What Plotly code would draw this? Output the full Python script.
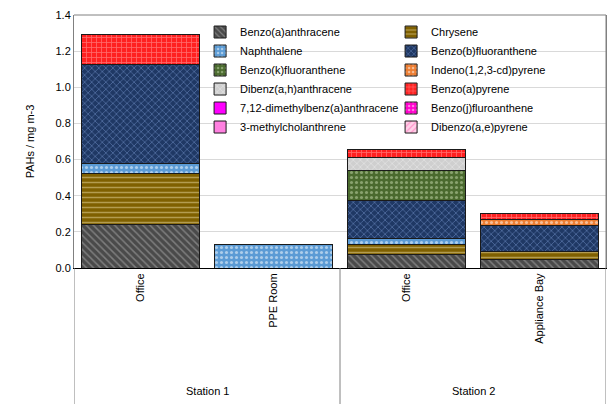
import plotly.graph_objects as go

# Sampling locations, grouped by station
stations = ["Station 1", "Station 1", "Station 2", "Station 2"]
locations = ["Office", "PPE Room", "Office", "Appliance Bay"]

# PAH concentrations (mg m-3) per location, one list per compound
benzo_a_anthracene = [0.242, 0.0, 0.076, 0.047]
chrysene = [0.279, 0.0, 0.054, 0.047]
naphthalene = [0.058, 0.131, 0.033, 0.0]
benzo_b_fluoranthene = [0.548, 0.0, 0.208, 0.139]
benzo_k_fluoranthene = [0.0, 0.0, 0.170, 0.0]
indeno_pyrene = [0.0, 0.0, 0.0, 0.035]
dibenz_ah_anthracene = [0.0, 0.0, 0.071, 0.0]
benzo_a_pyrene = [0.166, 0.0, 0.044, 0.033]
dmba = [0.0, 0.0, 0.0, 0.0]
benzo_j_fluoranthene = [0.0, 0.0, 0.0, 0.0]
methylcholanthrene = [0.0, 0.0, 0.0, 0.0]
dibenzo_ae_pyrene = [0.0, 0.0, 0.0, 0.0]

y_ticks = [0.0, 0.2, 0.4, 0.6, 0.8, 1.0, 1.2, 1.4]

# name, values, background colour, pattern colour, pattern shape
series = [
    ("Benzo(a)anthracene", benzo_a_anthracene, "#4a4a4a", "#b0b0b0", "\\"),
    ("Chrysene", chrysene, "#7f6000", "#e8d8a0", "-"),
    ("Naphthalene", naphthalene, "#5b9bd5", "#ffffff", "."),
    ("Benzo(b)fluoranthene", benzo_b_fluoranthene, "#1f3864", "#7f9fd8", "x"),
    ("Benzo(k)fluoranthene", benzo_k_fluoranthene, "#4a6a2e", "#c8dcb0", "."),
    ("Indeno(1,2,3-cd)pyrene", indeno_pyrene, "#ed7d31", "#ffffff", "."),
    ("Dibenz(a,h)anthracene", dibenz_ah_anthracene, "#cfcfcf", "#f2f2f2", "x"),
    ("Benzo(a)pyrene", benzo_a_pyrene, "#ff2020", "#ffb0b0", "+"),
    ("7,12-dimethylbenz(a)anthracene", dmba, "#ff00ff", "#ff00ff", ""),
    ("Benzo(j)fluroanthene", benzo_j_fluoranthene, "#ff00cc", "#ffffff", "."),
    ("3-methylcholanthrene", methylcholanthrene, "#ff80e0", "#ff80e0", ""),
    ("Dibenzo(a,e)pyrene", dibenzo_ae_pyrene, "#ffd0e8", "#ff60b0", "/"),
]

positions = list(range(len(locations)))

fig = go.Figure()
for name, vals, bg, fg, shape in series:
    fig.add_trace(go.Bar(
        name=name,
        x=positions,
        y=vals,
        marker=dict(
            color=bg,
            line=dict(color="#1a1a1a", width=1),
            pattern=dict(shape=shape, fgcolor=fg, bgcolor=bg,
                         size=5, solidity=0.3),
        ),
    ))

font_family = "Liberation Sans, Arial, sans-serif"

fig.update_layout(
    barmode="stack",
    bargap=0.11,
    width=616,
    height=404,
    margin=dict(l=74, r=10, t=15, b=136),
    paper_bgcolor="white",
    plot_bgcolor="white",
    font=dict(family=font_family, size=11, color="#000000"),
    showlegend=True,
    legend=dict(
        orientation="h",
        x=0.237, xanchor="left",
        y=0.99, yanchor="top",
        bgcolor="rgba(0,0,0,0)",
        entrywidth=146,
        itemwidth=30,
        tracegroupgap=0,
        font=dict(size=11, family=font_family),
        traceorder="normal",
    ),
    yaxis=dict(
        title=dict(text="PAHs / mg m-3", font=dict(size=11), standoff=18),
        range=[0, 1.4],
        tickvals=y_ticks,
        tickformat=".1f",
        showgrid=True,
        gridcolor="#d9d9d9",
        gridwidth=1,
        showline=True,
        linecolor="#808080",
        linewidth=1,
        mirror=True,
        ticks="",
        zeroline=False,
    ),
    xaxis=dict(
        range=[-0.5, len(locations) - 0.5],
        tickvals=positions,
        ticktext=locations,
        tickangle=-90,
        showline=True,
        linecolor="#000000",
        linewidth=1,
        showgrid=False,
        zeroline=False,
        ticks="",
    ),
)

# grey frame along the top and right of the plot area
fig.add_shape(type="line", xref="paper", yref="paper", x0=0, x1=1, y0=1, y1=1,
              line=dict(color="#808080", width=1))
fig.add_shape(type="line", xref="paper", yref="paper", x0=1, x1=1, y0=0, y1=1,
              line=dict(color="#808080", width=1))

# station grouping: dividers at group boundaries and a centred label per group
groups = []
for i, st in enumerate(stations):
    if groups and groups[-1][0] == st:
        groups[-1][2] = i
    else:
        groups.append([st, i, i])

for k, (st, first, last) in enumerate(groups):
    if k == 0:
        fig.add_shape(type="line", xref="x", yref="paper",
                      x0=first - 0.5, x1=first - 0.5, y0=0, y1=-0.6,
                      line=dict(color="#808080", width=1))
    fig.add_shape(type="line", xref="x", yref="paper",
                  x0=last + 0.5, x1=last + 0.5, y0=0, y1=-0.6,
                  line=dict(color="#808080", width=1))
    fig.add_annotation(text=st, xref="x", yref="paper",
                       x=(first + last) / 2, y=-0.485,
                       yanchor="middle", showarrow=False,
                       font=dict(size=11, family=font_family))

fig.write_html("out.html")
